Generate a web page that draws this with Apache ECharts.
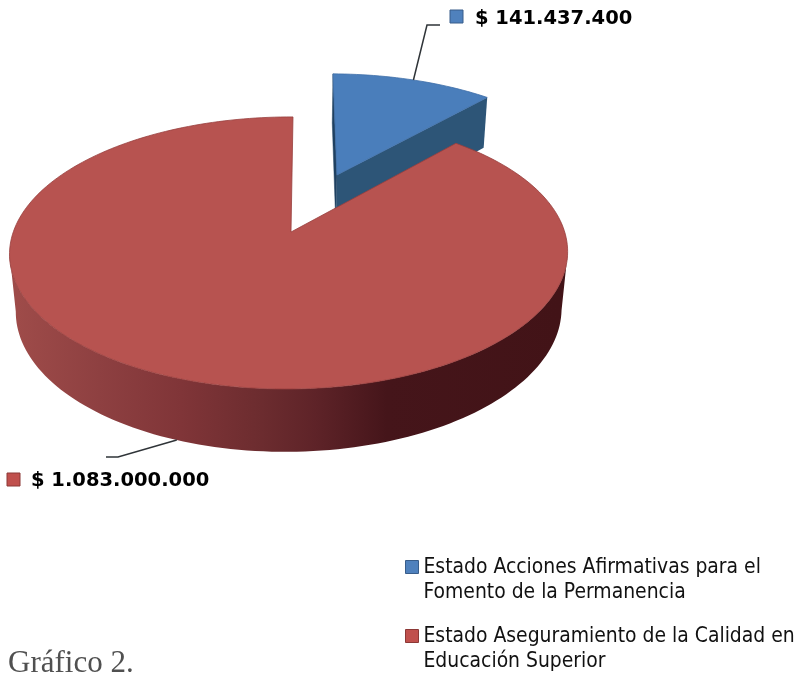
<!DOCTYPE html>
<html>
<head>
<meta charset="utf-8">
<style>html,body{margin:0;padding:0;background:#fff}#c{width:798px;height:674px}</style>
<script src="https://cdn.jsdelivr.net/npm/echarts@6/dist/echarts.min.js"></script>
</head>
<body>
<div id="c"></div>
<script>
var categories = ['Estado Acciones Afirmativas para el\nFomento de la Permanencia', 'Estado Aseguramiento de la Calidad en\nEducación Superior'];
var values = [141437400, 1083000000];
var valueLabels = ['$ 141.437.400', '$ 1.083.000.000'];
var total = values[0] + values[1];

// perspective camera of the tilted disc
var cam = {cx: 291, cy: 232, A: 275.7, B: 132.8, skew: 2.3, j: 0.0073, k: 0.154, m: 0.022, H: 58};
var explode = [0.492, 0];
// part of the rim whose outer wall faces the viewer (degrees clockwise from north)
var wallRange = [99, 261];
var style = [
  {top: '#4a7ebb', edge: '#3f6fa8', cut: '#2d5577', cutDark: '#1f4060', key: '#4f81bd', keyEdge: '#385d8a',
   label: {kx: 450, ky: 10, tx: 475, ty: 19}, leader: [[427, 25], [440, 25]]},
  {top: '#b75350', edge: '#983f3e', key: '#c0504d', keyEdge: '#8c3836',
   label: {kx: 7, ky: 473, tx: 31, ty: 481}, leader: [[118, 457], [106, 457]]}
];
var wallStops = [
  {offset: 0, color: '#9e4b49'}, {offset: 0.15, color: '#8e4041'}, {offset: 0.3, color: '#803538'},
  {offset: 0.45, color: '#6c2c2f'}, {offset: 0.55, color: '#5e2328'}, {offset: 0.68, color: '#45151a'},
  {offset: 1, color: '#421317'}
];
// legend key sits beside the first of the two text lines
var legendIcon = 'path://M0,0L0,0M0,5H13V18H0ZM13,50L13,50';

function project(u, v, z) {
  var d = 1 + cam.j * u + cam.k * v + cam.m * z;
  return [cam.cx + (cam.A * u + cam.skew * v) / d, cam.cy - (cam.B * v - cam.H * z) / d];
}
function rimPoint(deg, ox, oy, z) {
  var r = deg * Math.PI / 180;
  return project(ox + Math.sin(r), oy + Math.cos(r), z);
}
function arc(a0, a1, ox, oy, z) {
  var pts = [], n = Math.max(2, Math.ceil(Math.abs(a1 - a0) / 1.5));
  for (var i = 0; i <= n; i++) pts.push(rimPoint(a0 + (a1 - a0) * i / n, ox, oy, z));
  return pts;
}
function poly(points, fill, stroke, lw) {
  return {type: 'polygon', shape: {points: points}, style: {fill: fill, stroke: stroke || null, lineWidth: lw || 0}};
}

function makeRender(idx) {
  return function (params, api) {
    var val = api.value(0);
    var before = 0;
    for (var i = 0; i < idx; i++) before += values[i];
    var a0 = before / total * 360, a1 = (before + val) / total * 360, mid = (a0 + a1) / 2;
    var midR = mid * Math.PI / 180;
    var ox = explode[idx] * Math.sin(midR), oy = explode[idx] * Math.cos(midR);
    var s = style[idx];
    var kids = [];
    var apexTop = project(ox, oy, 0), apexBot = project(ox, oy, 1);

    if (idx === 0) {
      // blue: the two cut faces seen from the camera
      kids.push(poly([apexTop, rimPoint(a0, ox, oy, 0), rimPoint(a0, ox, oy, 1), apexBot], s.cutDark, s.cutDark, 0.5));
      kids.push(poly([apexTop, rimPoint(a1, ox, oy, 0), rimPoint(a1, ox, oy, 1), apexBot], s.cut));
    } else {
      // red: outer curved wall
      var lo = Math.max(a0, wallRange[0]), hi = Math.min(a1, wallRange[1]);
      var wall = arc(lo, hi, ox, oy, 0).concat(arc(hi, lo, ox, oy, 1));
      kids.push(poly(wall, new echarts.graphic.LinearGradient(18, 0, 560, 0, wallStops, true)));
    }
    // top face
    var face = [apexTop].concat(arc(a0, a1, ox, oy, 0));
    kids.push(poly(face, s.top, s.edge, 0.8));

    // leader line from the slice's mid-angle on the rim
    var anchor = idx === 0 ? rimPoint(mid, ox, oy, 0) : rimPoint(mid, ox, oy, 1);
    kids.push({type: 'polyline', shape: {points: [anchor].concat(s.leader)}, style: {fill: null, stroke: '#2f3438', lineWidth: 1.5}});

    // value label with colour key
    kids.push({type: 'rect', shape: {x: s.label.kx, y: s.label.ky, width: 13, height: 13}, style: {fill: s.key, stroke: s.keyEdge, lineWidth: 1}});
    kids.push({type: 'text', style: {x: s.label.tx, y: s.label.ty, text: valueLabels[idx], fill: '#000',
      font: 'bold 19.5px "DejaVu Sans"', verticalAlign: 'middle'}});
    return {type: 'group', children: kids};
  };
}

var chart = echarts.init(document.getElementById('c'), null, {renderer: 'canvas'});
chart.setOption({
  animation: false,
  backgroundColor: '#fff',
  title: {
    text: 'Gráfico 2.', left: 8, top: 648, padding: 0,
    textStyle: {fontFamily: '"Liberation Serif"', fontSize: 31, fontWeight: 'normal', color: '#505050'}
  },
  legend: {
    orient: 'vertical', left: 405, top: 555, height: 140, padding: 0, itemWidth: 13, itemHeight: 50, itemGap: 18,
    align: 'left', selectedMode: false, icon: legendIcon,
    textStyle: {fontFamily: '"DejaVu Sans Condensed"', fontSize: 20.9, lineHeight: 25, color: '#111'},
    data: [
      {name: categories[0], itemStyle: {color: style[0].key, borderColor: style[0].keyEdge, borderWidth: 1}},
      {name: categories[1], itemStyle: {color: style[1].key, borderColor: style[1].keyEdge, borderWidth: 1}}
    ]
  },
  series: [
    {type: 'custom', name: categories[0], coordinateSystem: 'none', data: [[values[0]]], renderItem: makeRender(0), itemStyle: {color: style[0].key}, silent: true},
    {type: 'custom', name: categories[1], coordinateSystem: 'none', data: [[values[1]]], renderItem: makeRender(1), itemStyle: {color: style[1].key}, silent: true}
  ]
});
</script>
</body>
</html>
